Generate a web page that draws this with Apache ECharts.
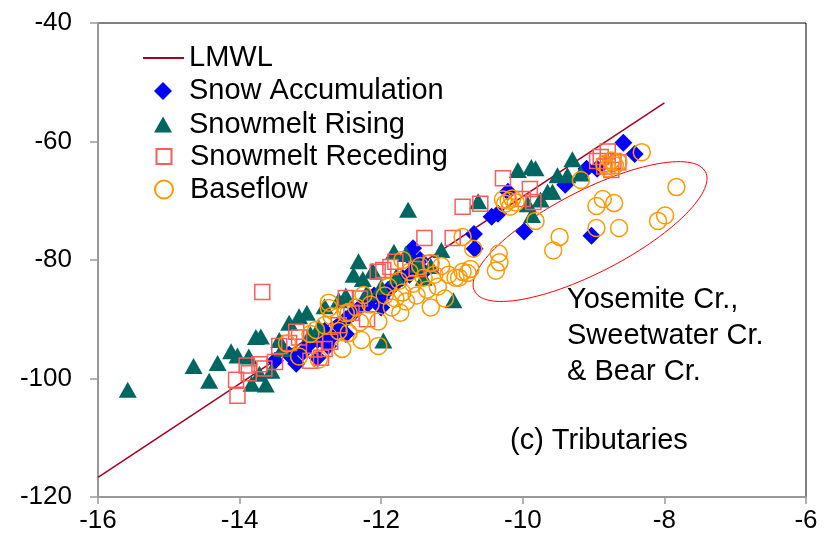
<!DOCTYPE html>
<html>
<head>
<meta charset="utf-8">
<script src="https://cdn.jsdelivr.net/npm/echarts@6/dist/echarts.min.js"></script>
<style>
html,body{margin:0;padding:0;background:#fff;}
#chart{width:825px;height:546px;}
</style>
</head>
<body>
<div id="chart"></div>
<script>
// ---- data (δ18O, δD) ----
var xTicks = [-16, -14, -12, -10, -8, -6];
var yTicks = [-120, -100, -80, -60, -40];

var lmwlX = [-16, -8];
var lmwlY = [-116.7, -53.5];

var snowAccumulation = [
  [-13.5,-97],[-13.3,-96],[-13.2,-97.5],[-13.1,-95.5],[-13.0,-94],[-12.9,-93.5],[-12.9,-96.5],
  [-12.8,-92],[-12.75,-94.5],[-12.7,-93],[-12.6,-91],[-12.5,-90],[-12.5,-92.5],[-12.4,-89],
  [-12.3,-88],[-12.2,-87.5],[-12.1,-86],[-12.0,-86.5],[-12.0,-88],[-11.9,-85],[-11.8,-84],
  [-11.7,-83],[-11.6,-82.5],[-11.6,-79.5],[-11.55,-78],[-11.5,-81],[-11.45,-80],[-11.4,-82],
  [-10.69,-75.6],[-10.68,-78.1],[-10.44,-72.7],[-10.35,-72.2],[-10.21,-68.5],[-9.98,-75.2],
  [-9.4,-67.3],[-9.1,-64.6],[-8.95,-64.6],[-8.58,-60.2],[-8.42,-62.1],[-9.03,-75.9]
];

var snowmeltRising = [
  [-15.58,-101.9],[-14.65,-97.9],[-14.43,-100.4],[-14.31,-97.4],[-14.12,-95.4],[-14.03,-96.1],
  [-13.87,-96.3],[-13.83,-100.9],[-13.77,-93.0],[-13.70,-92.9],[-13.72,-99.2],[-13.44,-93.5],
  [-13.63,-101.0],[-13.55,-98.7],[-13.4,-95],[-13.30,-90.6],[-13.16,-89.5],[-13.05,-88.9],
  [-13.0,-92.5],[-12.88,-91.4],[-12.80,-87.8],[-12.60,-86.8],[-12.5,-86],[-12.39,-82.5],
  [-12.32,-80.2],[-12.26,-83.2],[-12.2,-85.5],[-12.12,-81.8],[-12.0,-84.5],[-11.97,-93.6],
  [-11.82,-78.6],[-11.79,-82.8],[-11.65,-79.0],[-11.62,-71.5],[-11.48,-80.8],[-11.4,-83.0],
  [-11.3,-81.0],[-11.15,-78.3],[-10.98,-86.8],[-10.63,-70.1],[-10.07,-64.8],[-9.93,-70.6],
  [-9.88,-64.3],[-9.87,-72.4],[-9.82,-64.5],[-9.75,-69.8],[-9.65,-68.5],[-9.58,-68.5],
  [-9.51,-65.7],[-9.37,-65.7],[-9.30,-63.0],[-9.18,-65.4]
];

var snowmeltReceding = [
  [-13.68,-85.4],[-14.05,-100.2],[-14.03,-102.9],[-13.9,-97.8],[-13.87,-99.1],[-13.72,-97.6],
  [-13.65,-98.3],[-13.5,-97.2],[-13.44,-94.5],[-13.3,-94.0],[-13.2,-92.1],[-13.16,-93.1],
  [-13.0,-97],[-12.95,-95.1],[-12.85,-96.5],[-12.8,-95],[-12.72,-93.8],[-12.6,-91],
  [-12.5,-86.4],[-12.42,-88.9],[-12.3,-86.5],[-12.2,-90.0],[-12.05,-82.0],[-11.97,-81.7],
  [-11.87,-81.2],[-11.8,-80.3],[-11.5,-81.5],[-11.39,-76.3],[-11.3,-80.5],[-10.99,-76.3],
  [-10.85,-71.0],[-10.6,-70.5],[-10.28,-66.2],[-10.0,-69.7],[-9.9,-68.0],[-9.85,-70.2],
  [-8.95,-63.3],[-8.9,-62.6],[-8.85,-64.2],[-8.8,-61.7],[-8.8,-63.8],[-8.75,-64.8],
  [-8.72,-63.3],[-8.65,-63.5]
];

var baseflow = [
  [-7.83,-67.7],[-7.99,-72.5],[-8.09,-73.4],[-8.64,-74.6],[-8.96,-74.6],[-8.87,-69.7],
  [-8.71,-70.4],[-8.96,-70.9],[-9.48,-76.1],[-9.57,-78.4],[-10.34,-78.9],[-10.38,-81.8],
  [-10.33,-80.4],[-10.78,-82.2],[-10.74,-81.5],[-10.9,-83],[-9.18,-66.5],[-8.32,-61.8],
  [-9.82,-73.4],[-10.7,-78.1],[-10.85,-76.1],[-10.2,-70.0],[-10.25,-70.5],[-10.15,-69.6],
  [-10.1,-70.3],[-10.28,-69.8],[-10.18,-71.0],[-8.85,-63.8],[-8.75,-63.2],[-8.7,-64.0],
  [-8.8,-64.5],[-8.65,-63.5],
  [-13.33,-94.1],[-13.16,-96.3],[-13.0,-92.5],[-12.92,-91.8],[-12.88,-96.8],[-12.8,-91.0],
  [-12.74,-88.1],[-12.74,-87.2],[-12.7,-89.5],[-12.6,-92.0],[-12.55,-95.0],[-12.5,-89.0],
  [-12.46,-92.3],[-12.46,-88.9],[-12.35,-88.0],[-12.3,-90.5],[-12.28,-93.5],[-12.25,-85.9],
  [-12.15,-87.5],[-12.04,-94.5],[-12.04,-90.4],[-11.95,-86.0],[-11.9,-84.5],[-11.85,-88.0],
  [-11.8,-86.5],[-11.75,-83.5],[-11.73,-88.9],[-11.7,-85.5],[-11.7,-80.0],[-11.65,-87.0],
  [-11.6,-82.0],[-11.55,-84.0],[-11.5,-86.0],[-11.45,-81.0],[-11.4,-83.0],[-11.35,-85.0],
  [-11.3,-80.5],[-11.3,-88.0],[-11.25,-82.5],[-11.2,-84.5],[-11.15,-81.0],[-11.1,-86.5],
  [-11.05,-82.5],[-10.95,-83.0],[-10.85,-82.0]
];

// ellipse annotation (center and semi-axis vectors in data units)
var ellipseCenter = [-9.05, -75.2];
var ellipseMajor = [1.63, 10.1];
var ellipseMinor = [-0.27, 6.1];

var annotations = ['Yosemite Cr.,', 'Sweetwater Cr.', '& Bear Cr.'];
var panelLabel = '(c) Tributaries';

// ---- build ----
var ellipsePts = [];
for (var i = 0; i <= 120; i++) {
  var t = i / 120 * 2 * Math.PI;
  ellipsePts.push([
    ellipseCenter[0] + Math.cos(t) * ellipseMajor[0] + Math.sin(t) * ellipseMinor[0],
    ellipseCenter[1] + Math.cos(t) * ellipseMajor[1] + Math.sin(t) * ellipseMinor[1]
  ]);
}
var lmwlData = lmwlX.map(function (x, k) { return [x, lmwlY[k]]; });

var FONT = 'Arial, "Liberation Sans", sans-serif';
var LEG_FS = 29;
var TEXT_X = 189;
function legendItem(name, icon, cx, cy, w, h) {
  var left = icon === 'rect-line' ? cx : cx - w / 2;
  return {
    orient: 'vertical', left: left, top: cy - LEG_FS / 2, itemWidth: w, itemHeight: h, itemGap: 0,
    padding: 0, selectedMode: false,
    textStyle: { fontSize: LEG_FS, color: '#000', fontFamily: FONT, padding: [0, 0, 0, TEXT_X - (left + w + 5)] },
    data: [icon === 'rect-line' ? { name: name, icon: 'rect' } : { name: name }]
  };
}

var chart = echarts.init(document.getElementById('chart'));
chart.setOption({
  animation: false,
  backgroundColor: '#fff',
  textStyle: { fontFamily: FONT },
  grid: { left: 98, top: 23, right: 19, bottom: 49, show: true, borderColor: '#000', borderWidth: 1 },
  legend: [
    legendItem('LMWL', 'rect-line', 143, 58, 41, 2),
    legendItem('Snow Accumulation', 'diamond', 163, 91, 18, 18),
    legendItem('Snowmelt Rising', 'triangle', 163, 124.5, 18, 16),
    legendItem('Snowmelt Receding', 'rect', 163, 156.5, 15, 15),
    legendItem('Baseflow', 'circle', 163, 189.5, 18, 18)
  ],
  xAxis: {
    type: 'value', min: xTicks[0], max: xTicks[xTicks.length - 1], interval: 2,
    axisLine: { show: true, lineStyle: { color: '#999', width: 2 } },
    axisTick: { show: true, inside: false, length: 7, lineStyle: { color: '#999', width: 1.5 } },
    axisLabel: { fontSize: 26, color: '#000', margin: 11, fontFamily: FONT },
    splitLine: { show: false }
  },
  yAxis: {
    type: 'value', min: yTicks[0], max: yTicks[yTicks.length - 1], interval: 20,
    axisLine: { show: true, lineStyle: { color: '#999', width: 2 } },
    axisTick: { show: true, inside: false, length: 8, lineStyle: { color: '#999', width: 1.5 } },
    axisLabel: { fontSize: 26, color: '#000', margin: 26, fontFamily: FONT },
    splitLine: { show: false }
  },
  graphic: [
    { type: 'text', left: 567, top: 282, style: { text: annotations.join('\n'), font: '29px ' + FONT, fill: '#000', lineHeight: 36 } },
    { type: 'text', left: 510, top: 426, style: { text: panelLabel, font: '29px ' + FONT, fill: '#000', lineHeight: 29 } }
  ],
  series: [
    { name: 'LMWL', type: 'line', data: lmwlData, symbol: 'none', lineStyle: { color: '#A50021', width: 1.5 }, itemStyle: { color: '#A50021' }, z: 2 },
    { name: 'ellipse', type: 'line', data: ellipsePts, symbol: 'none', smooth: false, lineStyle: { color: '#FF0000', width: 1 }, z: 2, silent: true },
    { name: 'Snow Accumulation', type: 'scatter', data: snowAccumulation, symbol: 'diamond', symbolSize: 18, itemStyle: { color: '#0000FF', opacity: 1 }, z: 3 },
    { name: 'Snowmelt Rising', type: 'scatter', data: snowmeltRising, symbol: 'triangle', symbolSize: [18, 16], itemStyle: { color: '#006660', opacity: 1 }, z: 4 },
    { name: 'Snowmelt Receding', type: 'scatter', data: snowmeltReceding, symbol: 'rect', symbolSize: 15, itemStyle: { color: 'rgba(255,255,255,0)', borderColor: '#FF5B5B', borderWidth: 1.5, opacity: 1 }, z: 5 },
    { name: 'Baseflow', type: 'scatter', data: baseflow, symbol: 'circle', symbolSize: 17, itemStyle: { color: 'rgba(255,255,255,0)', borderColor: '#FF9900', borderWidth: 1.5, opacity: 1 }, z: 6 }
  ]
});
</script>
</body>
</html>
